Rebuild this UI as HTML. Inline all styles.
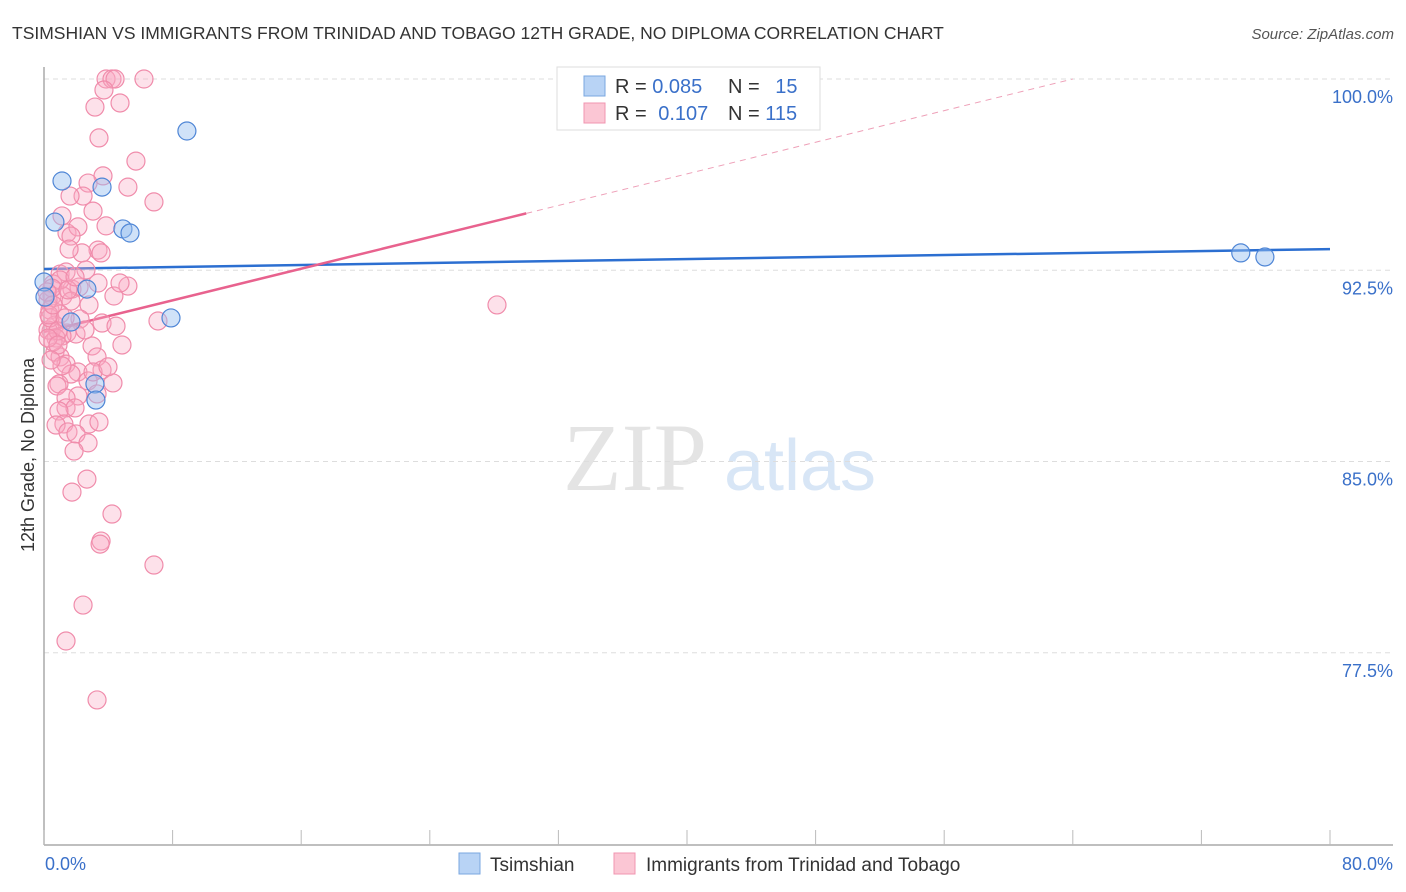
<!DOCTYPE html>
<html><head><meta charset="utf-8"><style>
body{margin:0;background:#fff;font-family:"Liberation Sans",sans-serif;}
#wrap{position:relative;width:1406px;height:892px;overflow:hidden;}
</style></head><body>
<div id="wrap">
<svg id="chart" width="1406" height="892" xmlns="http://www.w3.org/2000/svg">
<text x="12" y="39" font-size="17.5" fill="#333">TSIMSHIAN VS IMMIGRANTS FROM TRINIDAD AND TOBAGO 12TH GRADE, NO DIPLOMA CORRELATION CHART</text>
<text x="1394" y="39" font-size="15" fill="#555" font-style="italic" text-anchor="end">Source: ZipAtlas.com</text>
<g>
<text x="635" y="490" font-size="96" fill="#e4e4e4" font-family="Liberation Serif,serif" text-anchor="middle">ZIP</text>
<text x="800" y="490" font-size="72" fill="#d8e6f6" text-anchor="middle">atlas</text>
</g>
<g id="grid"></g>
<g id="axes"></g>
<g id="lines"></g>
<g id="pts"></g>
<text transform="translate(34,455) rotate(-90)" font-size="18" fill="#333" text-anchor="middle">12th Grade, No Diploma</text>
<g>
<rect x="557" y="67" width="263" height="63" fill="#fff" stroke="#ddd"/>
<rect x="584" y="76" width="21" height="20" fill="#b8d3f5" stroke="#7aa7e0"/>
<rect x="584" y="103" width="21" height="20" fill="#fbc6d4" stroke="#f095b0"/>
<text x="615" y="93" font-size="20" fill="#333">R = <tspan fill="#3a70c9">0.085</tspan></text>
<text x="728" y="93" font-size="20" fill="#333">N = <tspan fill="#3a70c9" dx="10">15</tspan></text>
<text x="615" y="120" font-size="20" fill="#333">R = <tspan fill="#3a70c9" dx="6">0.107</tspan></text>
<text x="728" y="120" font-size="20" fill="#333">N = <tspan fill="#3a70c9">115</tspan></text>
</g>
<g>
<rect x="459" y="853" width="21" height="21" fill="#b8d3f5" stroke="#7aa7e0"/>
<text x="490" y="871" font-size="19" fill="#333">Tsimshian</text>
<rect x="614" y="853" width="21" height="21" fill="#fbc6d4" stroke="#f095b0"/>
<text x="646" y="871" font-size="19" fill="#333">Immigrants from Trinidad and Tobago</text>
</g>
</svg>
</div>
<script>
const yTicks=[100,92.5,85,77.5];
const yTickLabels=["100.0%","92.5%","85.0%","77.5%"];
const xTickLabels=["0.0%","80.0%"];
const blueX=[8.89,1.12,3.61,0.68,4.91,5.35,2.67,7.9,1.68,3.17,3.23,74.45,75.95,0,0.06];
const blueY=[97.96,96.0,95.76,94.39,94.12,93.96,91.76,90.63,90.47,88.04,87.41,93.18,93.02,92.04,91.45];
const pinkX=[3.86,4.23,6.22,4.42,3.73,4.73,3.17,3.42,5.72,3.67,2.74,5.22,2.43,6.84,1.62,3.05,1.12,1.43,2.11,3.86,1.68,3.36,2.36,3.55,1.56,2.61,1.0,1.37,0.56,1.74,3.36,2.18,4.35,5.22,4.73,0.5,1.18,1.68,2.8,0.37,1.0,2.24,7.09,3.61,4.48,0.68,1.43,0.44,0.25,1.99,1.12,0.75,2.99,4.85,0.68,1.0,3.3,1.37,2.11,3.61,1.68,2.74,0.93,4.29,0.81,2.11,1.37,3.3,1.37,1.93,0.93,1.24,2.8,3.42,0.75,1.49,1.99,2.74,1.87,2.67,1.74,4.23,3.55,3.49,6.84,2.43,1.37,3.3,28.18,1.0,0.5,0.25,0.37,0.56,0.19,0.31,0.87,1.31,2.55,3.05,3.98,1.12,0.25,1.49,1.93,0.56,0.87,0.44];
const pinkY=[100,100,100,100,99.57,99.06,98.9,97.69,96.78,96.2,95.92,95.76,95.41,95.18,95.41,94.82,94.63,93.96,94.2,94.24,93.84,93.29,93.18,93.18,93.33,92.51,92.35,92.43,91.96,91.76,92.0,91.84,91.49,91.88,92.0,91.49,91.49,91.29,91.14,90.94,90.78,90.59,90.51,90.43,90.31,90.35,90.04,90.12,90.16,90.0,89.92,89.84,89.53,89.57,89.29,89.1,89.1,88.82,88.51,88.59,88.43,88.16,88.04,88.08,87.96,87.57,87.49,87.65,87.1,87.1,86.98,86.47,86.47,86.55,86.43,86.16,86.08,85.73,85.41,84.31,83.8,82.94,81.88,81.76,80.94,79.37,77.96,75.65,91.14,92.12,91.8,91.33,90.63,89.69,91.65,90.75,90.12,90.63,90.16,88.51,88.71,88.75,89.84,91.73,92.24,91.14,89.57,88.98];
const blueFit=[92.55,0.00975];
const pinkFit=[90.08,0.155];
const pinkSolidEnd=30;

const X0=44,X1=1330,Y0=79,PX_PER=25.5;
function sx(v){return X0+v*(X1-X0)/80;}
function sy(v){return Y0+(100-v)*PX_PER;}
const NS="http://www.w3.org/2000/svg";
function mk(tag,attrs,parent){const e=document.createElementNS(NS,tag);for(const k in attrs)e.setAttribute(k,attrs[k]);parent.appendChild(e);return e;}
const grid=document.getElementById('grid'),axes=document.getElementById('axes'),lines=document.getElementById('lines'),pts=document.getElementById('pts');
yTicks.forEach((t,i)=>{
 const l=mk('line',{x1:44,x2:1393,y1:sy(t),y2:sy(t),stroke:'#ddd','stroke-dasharray':'5,4'},grid);
 
 
 const tx=mk('text',{x:1393,y:sy(t)+24,'font-size':18,fill:'#3a70c9','text-anchor':'end'},axes);
 tx.textContent=yTickLabels[i];
 
 
});
const ax=mk('line',{x1:44,x2:1393,y1:845,y2:845,stroke:'#aaa','stroke-width':1.5},axes);


const ay=mk('line',{x1:44,x2:44,y1:67,y2:845,stroke:'#aaa','stroke-width':1.5},axes);


for(let i=0;i<=10;i++){
 const t=mk('line',{x1:sx(i*8),x2:sx(i*8),y1:830,y2:845,stroke:'#bbb'},axes);
 
 
}
[[0,'start',45],[80,'end',1393]].forEach((d,i)=>{
 const tx=mk('text',{x:d[2],y:870,'font-size':18,fill:'#3a70c9','text-anchor':d[1]},axes);
 tx.textContent=xTickLabels[i];
 
 
});
const bl=mk('line',{x1:sx(0),y1:sy(blueFit[0]),x2:sx(80),y2:sy(blueFit[0]+80*blueFit[1]),stroke:'#2c6fd1','stroke-width':2.5},lines);


const pe=(100-pinkFit[0])/pinkFit[1];
const pl=mk('line',{x1:sx(0),y1:sy(pinkFit[0]),x2:sx(pinkSolidEnd),y2:sy(pinkFit[0]+pinkSolidEnd*pinkFit[1]),stroke:'#e8628e','stroke-width':2.5},lines);


const pd=mk('line',{x1:sx(pinkSolidEnd),y1:sy(pinkFit[0]+pinkSolidEnd*pinkFit[1]),x2:sx(pe),y2:sy(100),stroke:'#eea0b8','stroke-width':1,'stroke-dasharray':'6,5'},lines);


pinkX.forEach((v,i)=>{
 const c=mk('circle',{cx:sx(v),cy:sy(pinkY[i]),r:9,fill:'rgba(248,170,195,0.35)',stroke:'#f08cab','stroke-width':1.2},pts);
 
 
});
blueX.forEach((v,i)=>{
 const c=mk('circle',{cx:sx(v),cy:sy(blueY[i]),r:9,fill:'rgba(150,190,240,0.45)',stroke:'#4f86d6','stroke-width':1.2},pts);
 
 
});
</script>
</body></html>
